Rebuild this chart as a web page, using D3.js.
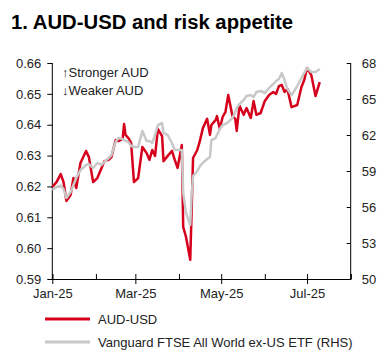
<!DOCTYPE html>
<html lang="en">
<head>
<meta charset="UTF-8">
<title>AUD-USD and risk appetite</title>
<script src="https://d3js.org/d3.v7.min.js"></script>
<style>
  body { margin: 0; background: #fff; }
  svg { display: block; font-family: "Liberation Sans", Arial, sans-serif; }
</style>
</head>
<body>
<script>
// dates of the traced points
const dates = [
  "2025-01-01","2025-01-04","2025-01-07","2025-01-09","2025-01-11","2025-01-14","2025-01-16","2025-01-18",
  "2025-01-21","2025-01-25","2025-01-27","2025-01-30","2025-02-02","2025-02-05","2025-02-07","2025-02-10",
  "2025-02-12","2025-02-15","2025-02-17","2025-02-20","2025-02-21","2025-02-22","2025-02-24","2025-02-26",
  "2025-02-28","2025-03-03","2025-03-06","2025-03-09","2025-03-11","2025-03-13","2025-03-15","2025-03-17",
  "2025-03-20","2025-03-21","2025-03-24","2025-03-27","2025-03-29","2025-03-31","2025-04-03","2025-04-04",
  "2025-04-06","2025-04-09","2025-04-10","2025-04-11","2025-04-14","2025-04-16","2025-04-18","2025-04-21",
  "2025-04-23","2025-04-24","2025-04-27","2025-04-28","2025-04-30","2025-05-02","2025-05-04","2025-05-06",
  "2025-05-09","2025-05-11","2025-05-12","2025-05-14","2025-05-17","2025-05-19","2025-05-22","2025-05-24",
  "2025-05-26","2025-05-29","2025-06-01","2025-06-04","2025-06-07","2025-06-09","2025-06-11","2025-06-13",
  "2025-06-15","2025-06-17","2025-06-20","2025-06-24","2025-06-27","2025-06-29","2025-07-01","2025-07-04",
  "2025-07-07","2025-07-10"
];

const audUsd = [
  0.6198,0.6214,0.6240,0.6214,0.6153,0.6172,0.6227,0.6195,
  0.6276,0.6315,0.6295,0.6214,0.6227,0.6260,0.6282,0.6286,
  0.6295,0.6350,0.6347,0.6354,0.6402,0.6367,0.6357,0.6341,
  0.6214,0.6227,0.6328,0.6308,0.6286,0.6318,0.6299,0.6386,
  0.6363,0.6282,0.6299,0.6315,0.6286,0.6260,0.6334,0.6069,
  0.6036,0.5962,0.6124,0.6292,0.6318,0.6350,0.6389,0.6419,
  0.6367,0.6399,0.6415,0.6428,0.6386,0.6425,0.6441,0.6496,
  0.6428,0.6419,0.6380,0.6461,0.6432,0.6454,0.6422,0.6477,
  0.6432,0.6438,0.6477,0.6496,0.6506,0.6500,0.6525,0.6529,
  0.6506,0.6516,0.6457,0.6464,0.6522,0.6545,0.6584,0.6561,
  0.6493,0.6538
];

const etf = [
  57.42,57.67,57.79,57.50,56.75,57.25,57.83,58.42,
  59.08,59.50,59.58,59.25,59.67,59.50,59.75,60.08,
  60.33,61.42,61.75,61.67,61.58,61.50,61.42,61.08,
  61.00,61.00,62.33,61.50,61.50,61.33,62.00,62.83,
  63.00,62.17,62.00,61.33,60.75,60.75,60.75,57.20,
  55.50,54.50,57.00,58.58,59.00,59.42,59.67,60.00,
  60.17,61.58,61.75,62.00,62.50,62.83,62.92,63.08,
  63.42,63.92,64.25,64.58,64.92,65.25,65.33,65.17,
  65.58,65.67,65.50,65.92,66.25,66.50,66.67,67.17,
  66.58,65.83,65.33,66.08,66.75,67.17,67.58,67.25,
  67.25,67.50
];

const leftTicks = [0.59,0.60,0.61,0.62,0.63,0.64,0.65,0.66];
const rightTicks = [50,53,56,59,62,65,68];
const monthTicks = ["2025-01-01","2025-02-01","2025-03-01","2025-04-01","2025-05-01","2025-06-01","2025-07-01","2025-08-01"];
const labelMonths = ["2025-01-01","2025-03-01","2025-05-01","2025-07-01"];

const parse = d3.timeParse("%Y-%m-%d");
const red = "#d6001c", grey = "#c8c8c8";

const W = 385, H = 353;
const plotL = 52.3, plotR = 350.7, plotT = 63, plotB = 279;

const svg = d3.select("body").append("svg").attr("width", W).attr("height", H);

const x = d3.scaleTime().domain([parse("2025-01-01"), parse("2025-08-01")]).range([plotL, plotR]);
const yL = d3.scaleLinear().domain([0.59, 0.66]).range([plotB, plotT]);
const yR = d3.scaleLinear().domain([50, 68]).range([plotB, plotT]);

svg.append("text").attr("x", 11).attr("y", 29)
  .attr("font-size", 20.3).attr("font-weight", "bold").attr("fill", "#000")
  .text("1. AUD-USD and risk appetite");

// left axis
const gL = svg.append("g").attr("transform", `translate(${plotL},0)`)
  .call(d3.axisLeft(yL).tickValues(leftTicks).tickFormat(d3.format(".2f")).tickSize(5).tickPadding(6));
// right axis
const gR = svg.append("g").attr("transform", `translate(${plotR},0)`)
  .call(d3.axisRight(yR).tickValues(rightTicks).tickSize(-4).tickPadding(11));
// bottom axis: monthly ticks inside, labelled ones cross the line
const gB = svg.append("g").attr("transform", `translate(0,${plotB})`)
  .call(d3.axisBottom(x).tickValues(monthTicks.map(parse)).tickSize(-5).tickFormat(""));
const gB2 = svg.append("g").attr("transform", `translate(0,${plotB})`)
  .call(d3.axisBottom(x).tickValues(labelMonths.map(parse)).tickSize(5).tickPadding(5).tickFormat(d3.timeFormat("%b-%y")));
gB2.select(".domain").remove();

[gL, gR, gB, gB2].forEach(g => {
  g.selectAll("text").attr("font-size", 13).attr("fill", "#222").attr("font-family", "Liberation Sans, Arial, sans-serif");
  g.selectAll("line,path").attr("stroke", "#000");
});
gL.select(".domain").attr("d", `M0,${plotT}V${plotB}`);
gR.select(".domain").attr("d", `M0,${plotT}V${plotB}`);

const redLine = d3.line().x((d, i) => x(parse(dates[i]))).y(d => yL(d));
const greyLine = d3.line().x((d, i) => x(parse(dates[i]))).y(d => yR(d));

svg.append("path").datum(audUsd).attr("d", redLine)
  .attr("fill", "none").attr("stroke", red).attr("stroke-width", 2.5).attr("stroke-linejoin", "round");
svg.append("path").datum(etf).attr("d", greyLine)
  .attr("fill", "none").attr("stroke", grey).attr("stroke-width", 2.5).attr("stroke-linejoin", "round");

// annotation
svg.append("text").attr("x", 62).attr("y", 77).attr("font-size", 13).attr("fill", "#222").text("\u2191Stronger AUD");
svg.append("text").attr("x", 62).attr("y", 95).attr("font-size", 13).attr("fill", "#222").text("\u2193Weaker AUD");

// legend
const legend = [
  { name: "AUD-USD", color: red, y: 319 },
  { name: "Vanguard FTSE All World ex-US ETF (RHS)", color: grey, y: 342 }
];
legend.forEach(l => {
  svg.append("line").attr("x1", 45).attr("x2", 90).attr("y1", l.y).attr("y2", l.y)
    .attr("stroke", l.color).attr("stroke-width", 3);
  svg.append("text").attr("x", 98).attr("y", l.y + 4.5).attr("font-size", 13).attr("fill", "#222").text(l.name);
});
</script>
</body>
</html>
